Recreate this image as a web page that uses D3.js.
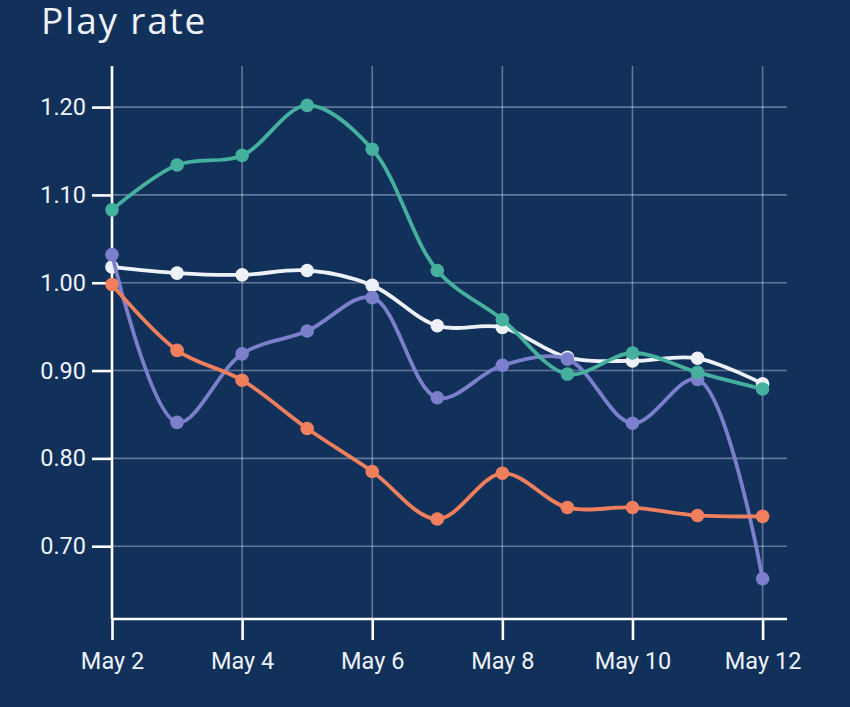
<!DOCTYPE html>
<html>
<head>
<meta charset="utf-8">
<script src="https://cdn.jsdelivr.net/npm/d3@7"></script>
<style>
  html, body { margin: 0; padding: 0; background: #11305a; }
  svg { display: block; }
</style>
</head>
<body>
<script>
const dates = ["2024-05-02","2024-05-03","2024-05-04","2024-05-05","2024-05-06","2024-05-07","2024-05-08","2024-05-09","2024-05-10","2024-05-11","2024-05-12"];
const tealValues   = [1.083, 1.134, 1.145, 1.202, 1.152, 1.014, 0.958, 0.896, 0.920, 0.898, 0.879];
const whiteValues  = [1.018, 1.011, 1.009, 1.014, 0.997, 0.951, 0.949, 0.915, 0.911, 0.914, 0.885];
const purpleValues = [1.032, 0.841, 0.919, 0.945, 0.983, 0.869, 0.906, 0.913, 0.840, 0.890, 0.663];
const orangeValues = [0.998, 0.923, 0.889, 0.834, 0.785, 0.731, 0.783, 0.744, 0.744, 0.735, 0.734];
const yTicks = [0.70, 0.80, 0.90, 1.00, 1.10, 1.20];
const xTickDates = ["2024-05-02","2024-05-04","2024-05-06","2024-05-08","2024-05-10","2024-05-12"];
const chartTitle = "Play rate";

const series = [
  { name: "white",  values: whiteValues,  color: "#eef1f8" },
  { name: "purple", values: purpleValues, color: "#7c80cc" },
  { name: "orange", values: orangeValues, color: "#ef7f5d" },
  { name: "teal",   values: tealValues,   color: "#45b09e" }
];

const W = 850, H = 707;
const parse = d3.timeParse("%Y-%m-%d");
const xDates = dates.map(parse);

const svg = d3.select("body").append("svg").attr("width", W).attr("height", H);
svg.append("rect").attr("width", W).attr("height", H).attr("fill", "#11305a");

svg.append("text")
  .attr("x", 41).attr("y", 34)
  .attr("fill", "#eef3fa")
  .attr("font-family", "'Open Sans', sans-serif")
  .attr("font-weight", 500)
  .attr("font-size", 37)
  .attr("letter-spacing", 1.8)
  .text(chartTitle);

const mLeft = 112, mBottom = 619, mTop = 66, mRight = 787;
const x = d3.scaleTime()
  .domain([parse("2024-05-02"), d3.timeHour.offset(parse("2024-05-12"), 9)])
  .range([mLeft, mRight]);
const y = d3.scaleLinear().domain([0.6171, 1.2468]).range([mBottom, mTop]);

// gridlines
const grid = svg.append("g").attr("stroke", "rgba(220,228,240,0.4)").attr("stroke-width", 1.6);
grid.selectAll("line.h").data(yTicks).join("line").attr("class", "h")
  .attr("x1", mLeft).attr("x2", mRight)
  .attr("y1", d => y(d)).attr("y2", d => y(d));
grid.selectAll("line.v").data(xTickDates.slice(1).map(parse)).join("line").attr("class", "v")
  .attr("x1", d => x(d)).attr("x2", d => x(d))
  .attr("y1", mTop).attr("y2", mBottom);

// axes
const yAxis = d3.axisLeft(y).tickValues(yTicks).tickFormat(d3.format(".2f")).tickSize(20).tickPadding(6);
const gy = svg.append("g").attr("transform", `translate(${mLeft},0)`).call(yAxis);
const xAxis = d3.axisBottom(x).tickValues(xTickDates.map(parse)).tickFormat(d3.timeFormat("%b %-d")).tickSize(21).tickPadding(12);
const gx = svg.append("g").attr("transform", `translate(0,${mBottom})`).call(xAxis);

[gy, gx].forEach(g => {
  g.select(".domain").attr("stroke", "#ffffff").attr("stroke-width", 2.6);
  g.selectAll(".tick line").attr("stroke", "#ffffff").attr("stroke-width", 2.6);
  g.selectAll(".tick text").attr("fill", "#eef3fa")
    .attr("font-family", "Roboto, sans-serif").attr("font-size", 23.5);
});
gy.select(".domain").attr("d", `M0,${mTop}V${mBottom}`);
gx.select(".domain").attr("d", `M${mLeft},0H${mRight}`);

// lines
const line = d3.line()
  .x((d, i) => x(xDates[i]))
  .y(d => y(d))
  .curve(d3.curveCatmullRom.alpha(0.5));

const sg = svg.append("g");
series.forEach(s => {
  const g = sg.append("g");
  g.append("path").datum(s.values)
    .attr("d", line)
    .attr("fill", "none")
    .attr("stroke", s.color)
    .attr("stroke-width", 3.8)
    .attr("stroke-linejoin", "round");
  g.selectAll("circle").data(s.values).join("circle")
    .attr("cx", (d, i) => x(xDates[i]))
    .attr("cy", d => y(d))
    .attr("r", 6.8)
    .attr("fill", s.color);
});
</script>
</body>
</html>
